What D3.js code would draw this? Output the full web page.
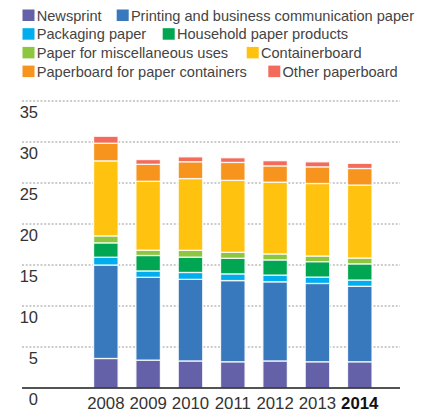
<!DOCTYPE html>
<html>
<head>
<meta charset="utf-8">
<script src="https://cdn.jsdelivr.net/npm/d3@7"></script>
<style>
  body { margin: 0; background: #fff; }
  svg { display: block; font-family: "Liberation Sans", Arial, sans-serif; }
</style>
</head>
<body>
<div id="wrapper"></div>
<script>
// data (million tons)
const years = ["2008", "2009", "2010", "2011", "2012", "2013", "2014"];
const seriesNames = ["Newsprint", "Printing and business communication paper", "Packaging paper",
    "Household paper products", "Paper for miscellaneous uses", "Containerboard",
    "Paperboard for paper containers", "Other paperboard"];
const colors = ["#6561a9", "#3878bd", "#00aeef", "#00a651", "#8dc63f", "#ffc20e", "#f7941d", "#f26b5b"];

const newsprint = [3.6, 3.4, 3.3, 3.2, 3.3, 3.2, 3.2];
const printing = [11.4, 10.1, 9.95, 9.9, 9.65, 9.55, 9.2];
const packaging = [0.95, 0.78, 0.84, 0.82, 0.82, 0.78, 0.77];
const household = [1.75, 1.88, 1.87, 1.9, 1.85, 1.88, 1.97];
const misc = [0.85, 0.65, 0.83, 0.73, 0.73, 0.69, 0.71];
const containerboard = [9.15, 8.4, 8.75, 8.77, 8.75, 8.84, 8.9];
const paperboard = [2.15, 2.07, 2.05, 2.19, 1.99, 2.03, 2.02];
const otherboard = [0.85, 0.58, 0.6, 0.57, 0.63, 0.61, 0.63];

const yTicks = [0, 5, 10, 15, 20, 25, 30, 35];
const boldYear = "2014";

const allSeries = [newsprint, printing, packaging, household, misc, containerboard, paperboard, otherboard];

const dimension = {
    width: 429,
    height: 414,
    margin: { top: 101, left: 22, bottom: 26, right: 29 }
};

const table = years.map((yr, i) => {
    const row = { year: yr };
    seriesNames.forEach((name, k) => { row[name] = allSeries[k][i]; });
    return row;
});

const stacked = d3.stack().keys(seriesNames)(table);

const svg = d3.select("#wrapper").append("svg")
    .attr("width", dimension.width)
    .attr("height", dimension.height);

const baseY = dimension.height - dimension.margin.bottom;

const yScaler = d3.scaleLinear()
    .domain([0, 35])
    .range([baseY, dimension.margin.top]);

const xScaler = d3.scaleBand()
    .domain(years)
    .range([72.4, 393.2])
    .paddingInner(0.42)
    .paddingOuter(0.5);

const gridLeft = dimension.margin.left;
const gridRight = dimension.width - dimension.margin.right;

// dotted grid lines
svg.append("g")
    .selectAll("line")
    .data(yTicks.filter(d => d > 0))
    .join("line")
    .attr("x1", gridLeft)
    .attr("x2", gridRight)
    .attr("y1", d => yScaler(d))
    .attr("y2", d => yScaler(d))
    .attr("stroke", "#9a9a9a")
    .attr("stroke-width", 1.2)
    .attr("stroke-dasharray", "2,1.7");

// y labels, below the grid lines
svg.append("g")
    .selectAll("text")
    .data(yTicks)
    .join("text")
    .attr("x", 38)
    .attr("y", d => yScaler(d) + 16.5)
    .attr("text-anchor", "end")
    .attr("font-size", 16.5)
    .attr("fill", "#333")
    .text(d => d);

// stacked bars
svg.append("g")
    .selectAll("g")
    .data(stacked)
    .join("g")
    .attr("fill", (d, i) => colors[i])
    .selectAll("rect")
    .data(d => d)
    .join("rect")
    .attr("x", d => xScaler(d.data.year))
    .attr("width", xScaler.bandwidth())
    .attr("y", d => yScaler(d[1]))
    .attr("height", d => yScaler(d[0]) - yScaler(d[1]))
    .attr("stroke", "#fff")
    .attr("stroke-opacity", 0.85)
    .attr("stroke-width", 1.3);

// base line
svg.append("line")
    .attr("x1", gridLeft)
    .attr("x2", gridRight)
    .attr("y1", baseY)
    .attr("y2", baseY)
    .attr("stroke", "#1a1a1a")
    .attr("stroke-width", 1.5);

// year labels
svg.append("g")
    .selectAll("text")
    .data(years)
    .join("text")
    .attr("x", d => xScaler(d) + xScaler.bandwidth() / 2)
    .attr("y", baseY + 20.5)
    .attr("text-anchor", "middle")
    .attr("font-size", 16.8)
    .attr("font-weight", d => d === boldYear ? "bold" : "normal")
    .attr("fill", d => d === boldYear ? "#111" : "#333")
    .text(d => d);

// legend, two items per row; second item starts where it does in the picture
const legendRows = [[0, 1], [2, 3], [4, 5], [6, 7]];
const secondX = [116.7, 162.7, 246.7, 268.3];
const legend = svg.append("g");
legendRows.forEach((row, r) => {
    const baseline = 20.7 + r * 18.7;
    row.forEach((k, j) => {
        const x = j === 0 ? 22.5 : secondX[r];
        legend.append("rect")
            .attr("x", x)
            .attr("y", baseline - 11.2)
            .attr("width", 12)
            .attr("height", 11.5)
            .attr("fill", colors[k]);
        legend.append("text")
            .attr("x", x + 14.2)
            .attr("y", baseline)
            .attr("font-size", 14.6)
            .attr("fill", "#444")
            .text(seriesNames[k]);
    });
});
</script>
</body>
</html>
